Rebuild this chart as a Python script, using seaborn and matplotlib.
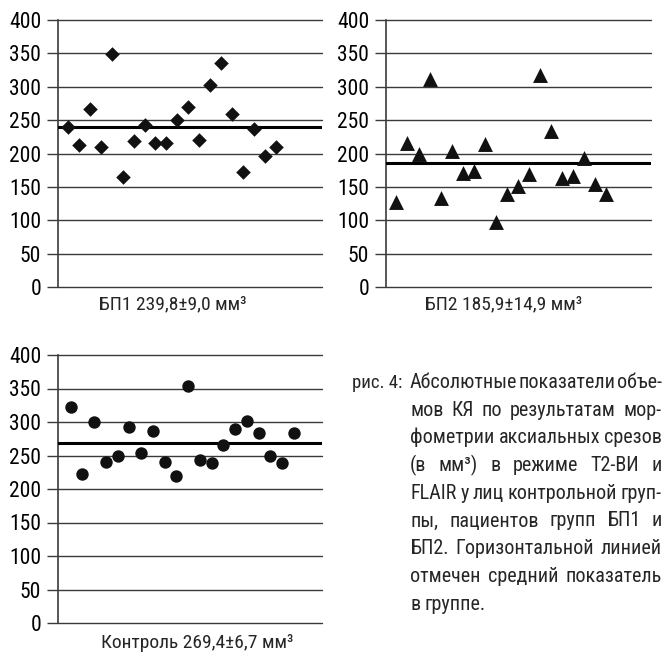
import matplotlib
matplotlib.use('Agg')
import numpy as np
import pandas as pd
import seaborn as sns
import matplotlib.pyplot as plt
from matplotlib import font_manager

# values
bp1 = [240, 212, 267, 209, 349, 165, 219, 243, 215, 216,
       250, 270, 220, 303, 336, 259, 172, 236, 196, 210]
bp2 = [127, 216, 199, 311, 134, 203, 171, 174, 214, 98,
       140, 152, 170, 318, 234, 164, 167, 193, 155, 140]
ctrl = [323, 222, 300, 241, 250, 293, 254, 286, 241, 220,
        354, 243, 239, 266, 289, 302, 284, 250, 239, 283]
mean_bp1 = 239.8
mean_bp2 = 185.9
mean_ctrl = 269.4
label_bp1 = 'БП1 239,8±9,0 мм³'
label_bp2 = 'БП2 185,9±14,9 мм³'
label_ctrl = 'Контроль 269,4±6,7 мм³'
yticks = [0, 50, 100, 150, 200, 250, 300, 350, 400]

caption_head = 'рис. 4:'
caption_lines = [
    'Абсолютные показатели объе-',
    'мов КЯ по результатам мор-',
    'фометрии аксиальных срезов',
    '(в мм³) в режиме Т2-ВИ и',
    'FLAIR у лиц контрольной груп-',
    'пы, пациентов групп БП1 и',
    'БП2. Горизонтальной линией',
    'отмечен средний показатель',
    'в группе.',
]

names = {f.name for f in font_manager.fontManager.ttflist}
font = next(f for f in ['Roboto Condensed', 'Liberation Sans Narrow',
                        'Open Sans Condensed', 'Liberation Sans', 'DejaVu Sans']
            if f in names)

sns.set_style('white')
plt.rcParams['font.family'] = [font, 'DejaVu Sans']

W, H = 667, 654
fig = plt.figure(figsize=(W / 100, H / 100), dpi=100)
GRID = '#3a3a3a'


def panel(rect, values, mean, marker, s, label, xlim, lab_x, lab_y):
    ax = fig.add_axes(rect)
    df = pd.DataFrame({'n': np.arange(1, len(values) + 1), 'v': values})
    sns.scatterplot(data=df, x='n', y='v', marker=marker, s=s, color='#111111',
                    linewidth=0, ax=ax, zorder=4)
    ax.axhline(mean, color='black', lw=2.2, zorder=3)
    ax.set_ylim(0, 400)
    ax.set_xlim(*xlim)
    ax.set_yticks(yticks)
    ax.set_xticks([])
    ax.yaxis.grid(True, color=GRID, lw=1.0)
    for gl in ax.get_ygridlines():
        gl.set_clip_on(False)
    ax.tick_params(axis='y', left=True, length=8, width=1.0, color=GRID,
                   pad=4, labelsize=15.5, labelcolor='black')
    for side in ['top', 'right', 'bottom']:
        ax.spines[side].set_visible(False)
    ax.spines['left'].set_color(GRID)
    ax.spines['left'].set_linewidth(1.2)
    ax.set_xlabel('')
    ax.set_ylabel('')
    ax.text(lab_x, lab_y, label, transform=ax.transAxes, ha='center',
            va='center', fontsize=14)
    return ax


def rect(l, t, r, b):
    return [l / W, 1 - b / H, (r - l) / W, (b - t) / H]


panel(rect(58, 20, 322, 287), bp1, mean_bp1, 'D', 55, label_bp1,
      (0.1, 24.2), 0.436, -0.064)
panel(rect(386, 20, 651, 287), bp2, mean_bp2, '^', 115, label_bp2,
      (0.05, 24.1), 0.445, -0.064)
panel(rect(58, 355, 322, 623), ctrl, mean_ctrl, 'o', 80, label_ctrl,
      (-0.08, 22.4), 0.527, -0.076)

# caption, justified line by line
fs = 14.5
renderer = fig.canvas.get_renderer()


def width(s, size=fs):
    t = fig.text(0, 0, s, fontsize=size)
    w = t.get_window_extent(renderer).width
    t.remove()
    return w


x0, x1 = 410, 662
base0, step = 388, 27.7
fig.text(352 / W, 1 - base0 / H, caption_head, fontsize=fs - 1, va='baseline')
space = width('a b') - width('a') - width('b')
for i, line in enumerate(caption_lines):
    words = line.split(' ')
    ws = [width(w) for w in words]
    if i < len(caption_lines) - 1 and len(words) > 1:
        gap = (x1 - x0 - sum(ws)) / (len(words) - 1)
    else:
        gap = space
    x = x0
    y = base0 + step * i
    for w, wd in zip(words, ws):
        fig.text(x / W, 1 - y / H, w, fontsize=fs, va='baseline')
        x += wd + gap

fig.savefig('out.png', dpi=100)
